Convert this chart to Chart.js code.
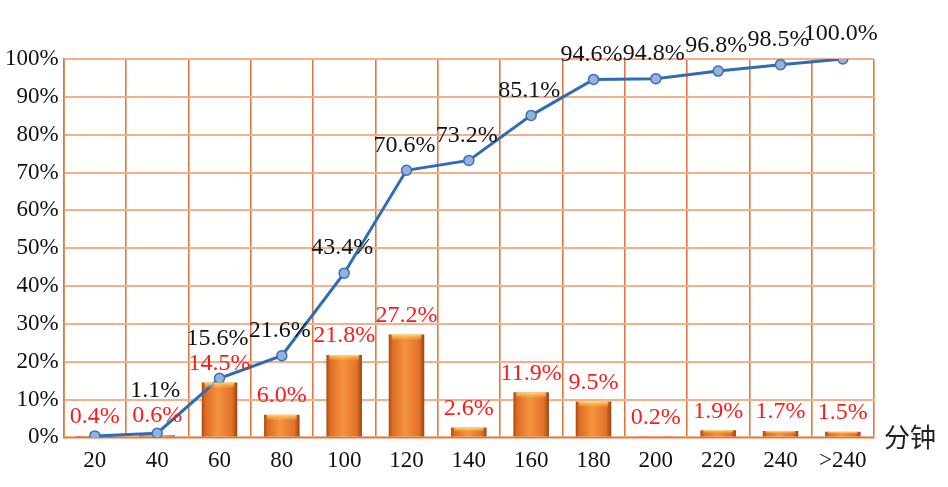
<!DOCTYPE html>
<html>
<head>
<meta charset="utf-8">
<script src="https://cdn.jsdelivr.net/npm/chart.js@4/dist/chart.umd.min.js"></script>
<style>
html,body{margin:0;padding:0;background:#fff;}
#wrap{width:948px;height:487px;position:relative;}
</style>
</head>
<body>
<div id="wrap"><canvas id="c"></canvas></div>
<script>
const categories = ['20','40','60','80','100','120','140','160','180','200','220','240','>240'];
const frequency = [0.4,0.6,14.5,6.0,21.8,27.2,2.6,11.9,9.5,0.2,1.9,1.7,1.5];
const cumulative = [0.4,1.1,15.6,21.6,43.4,70.6,73.2,85.1,94.6,94.8,96.8,98.5,100.0];
const yTicks = [0,10,20,30,40,50,60,70,80,90,100];
const unitLabel = '分钟';

const SERIF = '"Liberation Serif", "DejaVu Serif", serif';
const BAR_PCT = 0.57;

function barFill(context){
  const chart = context.chart;
  const xs = chart.scales && chart.scales.x;
  if(!chart.chartArea || !xs || context.dataIndex === undefined) return '#e8782a';
  const cx = xs.getPixelForValue(context.dataIndex);
  const w = (xs.width / categories.length) * BAR_PCT;
  const g = chart.ctx.createLinearGradient(cx - w/2,0,cx + w/2,0);
  g.addColorStop(0,'#a9490f');
  g.addColorStop(0.1,'#dc6c24');
  g.addColorStop(0.45,'#f5933f');
  g.addColorStop(0.85,'#e3732a');
  g.addColorStop(1,'#9c430f');
  return g;
}

const labelPlugin = {
  id:'valueLabels',
  afterDatasetsDraw(chart){
    const ctx = chart.ctx;
    const lineMeta = chart.getDatasetMeta(0);
    const barMeta = chart.getDatasetMeta(1);
    ctx.save();
    barMeta.data.forEach((b)=>{
      const h = b.base - b.y;
      if(h < 2) return;
      const w = b.width;
      const hl = Math.min(6, h/2);
      const g = ctx.createLinearGradient(0,b.y,0,b.y+hl);
      g.addColorStop(0,'rgba(255,225,130,0.95)');
      g.addColorStop(1,'rgba(255,190,90,0)');
      ctx.fillStyle = g;
      ctx.fillRect(b.x - w/2 + 3, b.y, w - 6, hl);
    });
    ctx.font = '24px ' + SERIF;
    ctx.textAlign = 'center';
    ctx.textBaseline = 'middle';
    frequency.forEach((v,i)=>{
      const b = barMeta.data[i];
      const by = b.y - 19;
      ctx.fillStyle = '#ff1a1a';
      ctx.fillText(v.toFixed(1)+'%', b.x, by);
      if(cumulative[i] === v) return;
      const p = lineMeta.data[i];
      let ly = p.y - 25;
      if(Math.abs(ly - by) < 23) ly = by - 25;
      ctx.fillStyle = '#111';
      ctx.fillText(cumulative[i].toFixed(1)+'%', p.x - 2, ly);
    });
    ctx.font = '26px "Noto Sans CJK SC", sans-serif';
    ctx.fillStyle = '#222';
    ctx.textAlign = 'center';
    ctx.fillText(unitLabel, chart.chartArea.right + 36, chart.chartArea.bottom);
    ctx.restore();
  }
};

new Chart(document.getElementById('c'), {
  data:{
    labels: categories,
    datasets:[
      {
        type:'line',
        data: cumulative,
        borderColor:'#2f6cb3',
        borderWidth:3,
        pointRadius:5,
        pointBackgroundColor:'#93b3de',
        pointBorderColor:'#3d6fb2',
        pointBorderWidth:1.5,
        tension:0,
        order:0
      },
      {
        type:'bar',
        data: frequency,
        backgroundColor: barFill,
        borderWidth:0,
        barPercentage:BAR_PCT,
        categoryPercentage:1.0,
        order:1
      }
    ]
  },
  options:{
    responsive:true,
    maintainAspectRatio:false,
    animation:false,
    layout:{padding:{top:59,right:74,bottom:2,left:0}},
    plugins:{legend:{display:false},tooltip:{enabled:false}},
    scales:{
      x:{
        offset:true,
        grid:{offset:true,color:'#e3783e',lineWidth:1.6,drawTicks:false},
        border:{color:'#e3783e',width:1.6},
        ticks:{color:'#111',font:{family:SERIF,size:23},padding:10,maxRotation:0,autoSkip:false}
      },
      y:{
        min:0,max:100,
        afterBuildTicks(axis){ axis.ticks = yTicks.map(v=>({value:v})); },
        grid:{color:'#f6b089',lineWidth:2,drawTicks:false},
        border:{color:'#e3783e',width:1.6},
        ticks:{color:'#111',font:{family:SERIF,size:23},padding:5,callback:(v)=>v+'%'}
      }
    }
  },
  plugins:[labelPlugin]
});
</script>
</body>
</html>
